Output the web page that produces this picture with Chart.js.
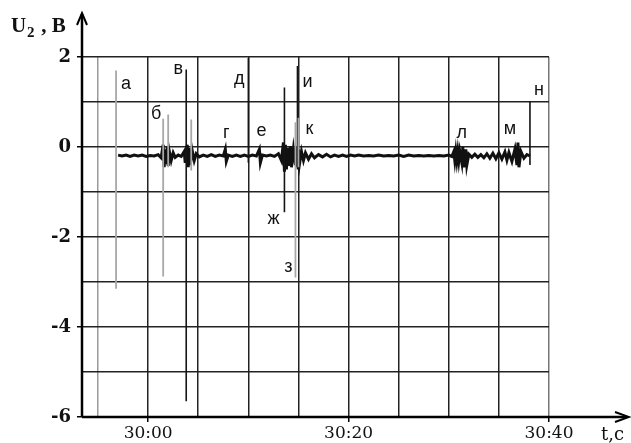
<!DOCTYPE html>
<html>
<head>
<meta charset="utf-8">
<script src="https://cdn.jsdelivr.net/npm/chart.js@4.4.1/dist/chart.umd.min.js"></script>
<style>
    html, body { margin: 0; padding: 0; background: #fff; }
    #wrap { width: 631px; height: 443px; }
</style>
</head>
<body>
<div id="wrap"><canvas id="signalChart" width="631" height="443"></canvas></div>
<script>
// time in seconds (30:00 = 1800 s), voltage in V
const sigT = [
    1797.0, 1797.4, 1797.8, 1798.2, 1798.6, 1799.0, 1799.4, 1799.8, 1800.2, 1800.6,
    1801.0, 1801.3, 1801.5, 1801.6, 1801.7, 1801.8, 1801.9, 1802.0, 1802.1, 1802.3,
    1802.5, 1802.7, 1803.0, 1803.3, 1803.6, 1803.7, 1803.9, 1804.0, 1804.1, 1804.2,
    1804.4, 1804.6, 1804.8, 1805.1, 1805.5, 1805.9, 1806.3, 1806.7, 1807.1, 1807.5,
    1807.7, 1807.8, 1808.0, 1808.4, 1808.8, 1809.2, 1809.6, 1810.0, 1810.4, 1810.8,
    1811.1, 1811.2, 1811.4, 1811.8, 1812.2, 1812.6, 1813.0, 1813.3, 1813.5, 1813.6,
    1813.7, 1813.8, 1813.9, 1814.0, 1814.2, 1814.3, 1814.5, 1814.7, 1814.8, 1814.9,
    1815.0, 1815.1, 1815.3, 1815.5, 1815.7, 1816.0, 1816.3, 1816.6, 1817.0, 1817.4,
    1817.8, 1818.2, 1818.6, 1819.0, 1819.4, 1819.8, 1820.2, 1820.6, 1821.0, 1821.5,
    1822.0, 1822.5, 1823.0, 1823.5, 1824.0, 1824.5, 1825.0, 1825.5, 1826.0, 1826.5,
    1827.0, 1827.5, 1828.0, 1828.5, 1829.0, 1829.5, 1830.0, 1830.3, 1830.5, 1830.6,
    1830.7, 1830.8, 1830.9, 1831.0, 1831.1, 1831.3, 1831.4, 1831.5, 1831.7, 1831.8,
    1832.0, 1832.3, 1832.6, 1832.9, 1833.2, 1833.5, 1833.8, 1834.1, 1834.4, 1834.7,
    1835.0, 1835.3, 1835.6, 1835.8, 1836.0, 1836.3, 1836.6, 1836.8, 1836.9, 1837.0,
    1837.2, 1837.5, 1837.8, 1838.1
];
const sigV = [
    -0.18, -0.20, -0.18, -0.21, -0.18, -0.20, -0.18, -0.21, -0.19, -0.20,
    -0.17, -0.24, 0.05, -0.45, -0.05, -0.38, 0.0, -0.42, -0.08, -0.30,
    -0.13, -0.23, -0.18, -0.21, -0.10, -0.35, 0.05, -0.45, -0.02, -0.40,
    -0.08, -0.30, -0.15, -0.22, -0.18, -0.21, -0.17, -0.21, -0.18, -0.20,
    -0.05, -0.32, -0.18, -0.21, -0.18, -0.21, -0.18, -0.21, -0.18, -0.20,
    -0.05, -0.35, -0.18, -0.20, -0.18, -0.21, -0.15, -0.30, 0.10, -0.55,
    0.05, -0.50, -0.02, -0.42, 0.02, -0.45, -0.05, -0.40, 0.0, -0.45,
    -0.05, -0.38, -0.10, -0.30, -0.13, -0.27, -0.15, -0.24, -0.17, -0.22,
    -0.16, -0.22, -0.18, -0.21, -0.18, -0.21, -0.18, -0.20, -0.18, -0.20,
    -0.19, -0.20, -0.18, -0.20, -0.19, -0.20, -0.18, -0.21, -0.18, -0.20,
    -0.19, -0.20, -0.19, -0.20, -0.19, -0.20, -0.18, -0.21, -0.10, -0.30,
    -0.10, -0.30, -0.10, -0.30, -0.10, -0.35, 0.0, -0.45, -0.05, -0.40,
    -0.16, -0.23, -0.16, -0.23, -0.17, -0.24, -0.15, -0.25, -0.14, -0.26,
    -0.13, -0.27, -0.11, -0.29, -0.12, -0.32, -0.05, -0.40, 0.10, -0.45,
    -0.10, -0.25, -0.17, -0.20
];

// tall single spikes: time, top, bottom
const darkSpikeT = [1803.8, 1810.0, 1813.6, 1814.9, 1838.1];
const darkSpikeTop = [1.72, 1.98, 1.32, 1.80, 1.02];
const darkSpikeBottom = [-5.65, -0.35, -1.45, -0.50, -0.40];

const lightSpikeT = [1796.8, 1801.5, 1802.0, 1804.3, 1814.7, 1815.0];
const lightSpikeTop = [1.70, 0.63, 0.72, 0.61, 0.55, 0.65];
const lightSpikeBottom = [-3.15, -2.88, -0.45, -0.52, -2.90, -0.45];

// event letters
const markLetters = ['а', 'б', 'в', 'г', 'д', 'е', 'ж', 'з', 'и', 'к', 'л', 'м', 'н'];
const markT = [1797.8, 1800.8, 1803.0, 1807.8, 1809.1, 1811.3, 1812.5, 1814.0, 1815.9, 1816.1, 1831.3, 1836.1, 1839.0];
const markV = [1.40, 0.74, 1.74, 0.30, 1.52, 0.35, -1.61, -2.67, 1.45, 0.39, 0.30, 0.39, 1.27];

const xGrid = [1795, 1800, 1805, 1810, 1815, 1820, 1825, 1830, 1835, 1840];
const xLabels = { 1800: '30:00', 1820: '30:20', 1840: '30:40' };

function spikePoints(ts, tops, bottoms) {
    const pts = [];
    ts.forEach((t, i) => {
        pts.push({ x: t, y: tops[i] });
        pts.push({ x: t, y: bottoms[i] });
        pts.push({ x: t, y: null });
    });
    return pts;
}

const decorations = {
    id: 'decorations',
    afterDraw(chart) {
        const ctx = chart.ctx;
        const a = chart.chartArea;
        const xs = chart.scales.x;
        const ys = chart.scales.y;
        ctx.save();

        // letters
        ctx.fillStyle = '#111';
        ctx.font = '18px "Liberation Sans", Arial, sans-serif';
        ctx.textAlign = 'center';
        ctx.textBaseline = 'middle';
        markLetters.forEach((s, i) => {
            ctx.fillText(s, xs.getPixelForValue(markT[i]), ys.getPixelForValue(markV[i]));
        });

        // axes with arrows
        ctx.strokeStyle = '#000';
        ctx.lineWidth = 2.5;
        ctx.beginPath();
        ctx.moveTo(a.left, a.bottom);
        ctx.lineTo(a.left, 14);
        ctx.moveTo(a.left, a.bottom);
        ctx.lineTo(627, a.bottom);
        ctx.stroke();
        ctx.lineWidth = 2;
        ctx.beginPath();
        ctx.moveTo(a.left - 5, 25);
        ctx.lineTo(a.left, 13);
        ctx.lineTo(a.left + 5, 25);
        ctx.moveTo(615, a.bottom - 5);
        ctx.lineTo(629, a.bottom);
        ctx.lineTo(615, a.bottom + 5);
        ctx.stroke();

        // axis titles
        ctx.textAlign = 'left';
        ctx.textBaseline = 'alphabetic';
        ctx.font = 'bold 21px "Liberation Serif", serif';
        ctx.fillText('U', 11, 32);
        ctx.font = 'bold 15px "Liberation Serif", serif';
        ctx.fillText('2', 27, 37);
        ctx.font = 'bold 21px "Liberation Serif", serif';
        ctx.fillText(' , B', 36, 32);
        ctx.font = '18px "DejaVu Serif", serif';
        ctx.fillText('t,c', 601, 440);
        ctx.restore();
    }
};

const ctx = document.getElementById('signalChart').getContext('2d');
new Chart(ctx, {
    type: 'line',
    data: {
        datasets: [
            {
                data: spikePoints(lightSpikeT, lightSpikeTop, lightSpikeBottom),
                borderColor: '#a8a8a8',
                borderWidth: 1.8,
                pointRadius: 0,
                spanGaps: false
            },
            {
                data: spikePoints(darkSpikeT, darkSpikeTop, darkSpikeBottom),
                borderColor: '#151515',
                borderWidth: 1.6,
                pointRadius: 0,
                spanGaps: false
            },
            {
                data: sigT.map((t, i) => ({ x: t, y: sigV[i] })),
                borderColor: '#111',
                borderWidth: 3,
                pointRadius: 0,
                tension: 0
            }
        ]
    },
    options: {
        responsive: false,
        animation: false,
        layout: { padding: { top: 57, right: 82, left: 0, bottom: 0 } },
        plugins: {
            legend: { display: false },
            tooltip: { enabled: false }
        },
        scales: {
            x: {
                type: 'linear',
                min: 1793.4,
                max: 1840,
                afterBuildTicks: scale => {
                    scale.ticks = xGrid.map(v => ({ value: v }));
                },
                afterFit: scale => { scale.height = 26; },
                border: { display: false },
                grid: {
                    color: c => (c.tick && c.tick.value === 1795) ? '#9a9a9a' : (c.tick && c.tick.value === 1840 ? '#777' : '#222'),
                    lineWidth: 1.5,
                    tickLength: 5,
                    tickColor: c => (c.tick && xLabels[c.tick.value]) ? '#000' : 'rgba(0,0,0,0)'
                },
                ticks: {
                    autoSkip: false,
                    maxRotation: 0,
                    padding: 1,
                    color: '#111',
                    font: { family: '"DejaVu Serif", serif', size: 17 },
                    callback: v => xLabels[v] || ''
                }
            },
            y: {
                min: -6,
                max: 2,
                afterFit: scale => { scale.width = 82; },
                border: { display: false },
                grid: {
                    color: '#222',
                    lineWidth: 1.5,
                    tickLength: 5,
                    tickColor: c => (c.tick && c.tick.value % 2 === 0) ? '#000' : 'rgba(0,0,0,0)'
                },
                ticks: {
                    stepSize: 1,
                    padding: 6,
                    color: '#111',
                    font: { family: '"DejaVu Serif", serif', size: 18, weight: 'bold' },
                    callback: v => (v % 2 === 0) ? String(v) : ''
                }
            }
        }
    },
    plugins: [decorations]
});
</script>
</body>
</html>
